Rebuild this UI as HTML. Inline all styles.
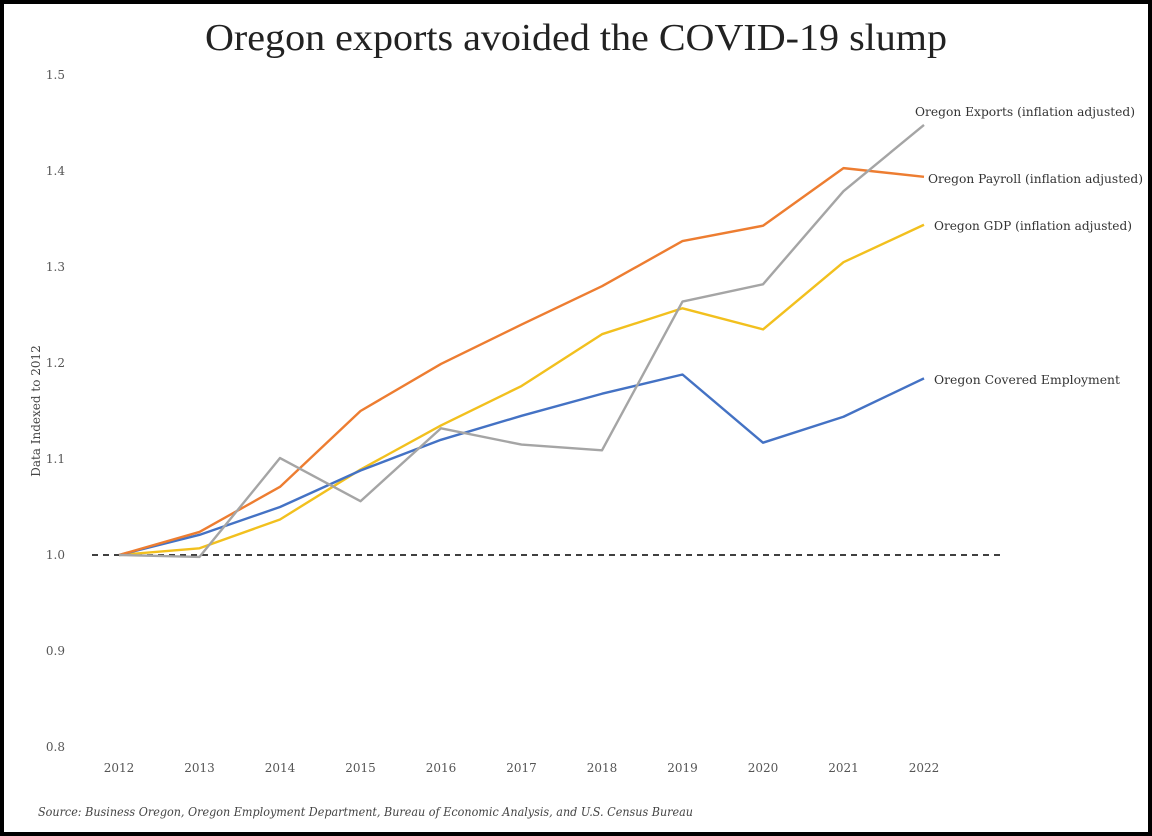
<!DOCTYPE html>
<html><head><meta charset="utf-8"><style>
html,body{margin:0;padding:0;background:#fff;}
svg{display:block;font-family:"DejaVu Serif","Liberation Serif",serif;}
</style></head><body>
<svg id="chart" width="1152" height="836" viewBox="0 0 1152 836">
<rect x="2" y="2" width="1148" height="832" fill="#fff" stroke="#000" stroke-width="4"/>
<text x="205" y="50" font-size="38" font-family="Liberation Serif, serif" fill="#222" textLength="742" lengthAdjust="spacingAndGlyphs">Oregon exports avoided the COVID-19 slump</text>
<text transform="translate(40,411) rotate(-90)" text-anchor="middle" font-size="12" fill="#444">Data Indexed to 2012</text>
<text x="38" y="816" font-size="12" font-style="italic" fill="#444" textLength="655" lengthAdjust="spacingAndGlyphs">Source: Business Oregon, Oregon Employment Department, Bureau of Economic Analysis, and U.S. Census Bureau</text>
<g id="ticks"></g>
<g id="series"></g>
</svg>
<script>
const years=["2012","2013","2014","2015","2016","2017","2018","2019","2020","2021","2022"];
const yTicks=[0.8,0.9,1.0,1.1,1.2,1.3,1.4,1.5];
const exportsVals=[1.0,0.998,1.101,1.056,1.132,1.115,1.109,1.264,1.282,1.379,1.448];
const payrollVals=[1.0,1.024,1.071,1.15,1.199,1.24,1.28,1.327,1.343,1.403,1.394];
const gdpVals=[1.0,1.007,1.037,1.089,1.135,1.176,1.23,1.257,1.235,1.305,1.344];
const employmentVals=[1.0,1.021,1.05,1.088,1.12,1.145,1.168,1.188,1.117,1.144,1.184];
const NS="http://www.w3.org/2000/svg";
const x=i=>119+i*80.5;
const y=v=>555-(v-1.0)*960;
const tg=document.getElementById('ticks'), sg=document.getElementById('series');
function mk(tag,attrs,parent){const e=document.createElementNS(NS,tag);for(const k in attrs)e.setAttribute(k,attrs[k]);parent.appendChild(e);return e;}
yTicks.forEach(v=>{const t=mk('text',{x:65,y:y(v)+4,'text-anchor':'end','font-size':12,fill:'#555'},tg);


t.textContent=v.toFixed(1);});
years.forEach((yr,i)=>{const t=mk('text',{x:x(i),y:772,'text-anchor':'middle','font-size':12,fill:'#555'},tg);


t.textContent=yr;});
const base=mk('line',{x1:92,x2:1000,y1:y(1.0),y2:y(1.0),stroke:'#000','stroke-width':1.6,'stroke-dasharray':'6,5'},sg);


const series=[
 [gdpVals,'#f2c01e','gdp-line','Oregon GDP (inflation adjusted)',934,230,198],
 [employmentVals,'#4472c4','employment-line','Oregon Covered Employment',934,384,186],
 [payrollVals,'#ed7d31','payroll-line','Oregon Payroll (inflation adjusted)',928,183,215],
 [exportsVals,'#a5a5a5','exports-line','Oregon Exports (inflation adjusted)',915,116,220]];
series.forEach(s=>{const p=s[0].map((v,i)=>x(i)+','+y(v)).join(' ');
const l=mk('polyline',{points:p,fill:'none',stroke:s[1],'stroke-width':2.4,'stroke-linejoin':'round'},sg);


const t=mk('text',{x:s[4],y:s[5],'font-size':12.5,fill:'#333',textLength:s[6],lengthAdjust:'spacingAndGlyphs'},sg);


t.textContent=s[3];});
</script>
</body></html>
